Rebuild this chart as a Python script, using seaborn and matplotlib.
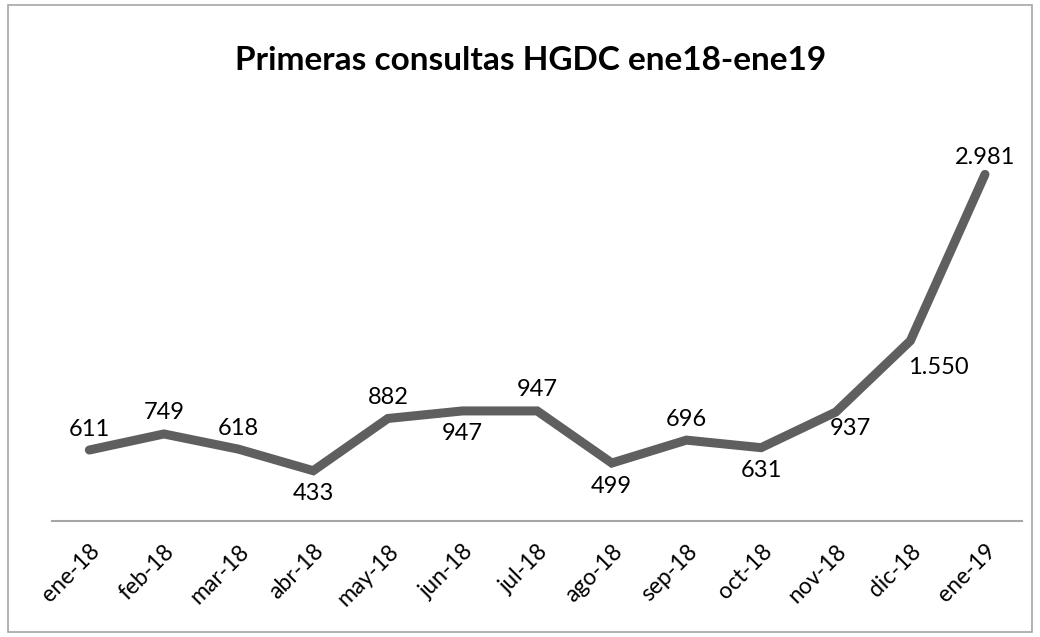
import matplotlib
matplotlib.use("Agg")
import matplotlib.pyplot as plt
import seaborn as sns
import pandas as pd

# data
months = ["ene-18", "feb-18", "mar-18", "abr-18", "may-18", "jun-18", "jul-18",
          "ago-18", "sep-18", "oct-18", "nov-18", "dic-18", "ene-19"]
consultas = [611, 749, 618, 433, 882, 947, 947, 499, 696, 631, 937, 1550, 2981]

# where Excel put each data label, in pixels from the point
label_offsets = [(0, 21), (0, 21), (0, 21), (0, -23), (0, 21), (0, -23), (0, 21),
                 (0, -23), (0, 21), (0, -23), (15, -16), (28, -27), (0, 17)]

LINE_COLOR = "#5f5f5f"
TEXT_COLOR = "#000000"

sns.set_theme(style="white")
plt.rcParams["font.family"] = ["Lato", "DejaVu Sans"]

df = pd.DataFrame({"mes": months, "consultas": consultas})

fig = plt.figure(figsize=(10.4, 6.37), dpi=100)
ax = fig.add_axes([0.05, 0.182, 0.933, 0.639])

sns.lineplot(data=df, x="mes", y="consultas", sort=False, ax=ax,
             color=LINE_COLOR, linewidth=6.5, solid_capstyle="round",
             solid_joinstyle="miter")

for i, (v, (dx, dy)) in enumerate(zip(consultas, label_offsets)):
    txt = f"{v:,}".replace(",", ".")
    ax.annotate(txt, (i, v), xytext=(dx, dy), textcoords="offset pixels",
                ha="center", va="center", fontsize=17, color=TEXT_COLOR)

ax.set_xlim(-0.5, len(months) - 0.5)
ax.set_ylim(0, 3500)
ax.set_yticks([])
ax.set_xlabel("")
ax.set_ylabel("")
for side in ["top", "right", "left"]:
    ax.spines[side].set_visible(False)
ax.spines["bottom"].set_color("#a6a6a6")
ax.spines["bottom"].set_linewidth(1.5)
ax.tick_params(axis="x", length=0, pad=14)
plt.setp(ax.get_xticklabels(), rotation=45, ha="right", rotation_mode="anchor",
         fontsize=16.5, color=TEXT_COLOR)

fig.text(0.51, 0.905, "Primeras consultas HGDC ene18-ene19", ha="center",
         va="center", fontsize=24, fontweight="bold", color=TEXT_COLOR)

# chart area border
fig.patches.append(plt.Rectangle((0.008, 0.008), 0.984, 0.984, transform=fig.transFigure,
                                 fill=False, edgecolor="#a6a6a6", linewidth=1.2))

fig.savefig("out.png", dpi=100)
